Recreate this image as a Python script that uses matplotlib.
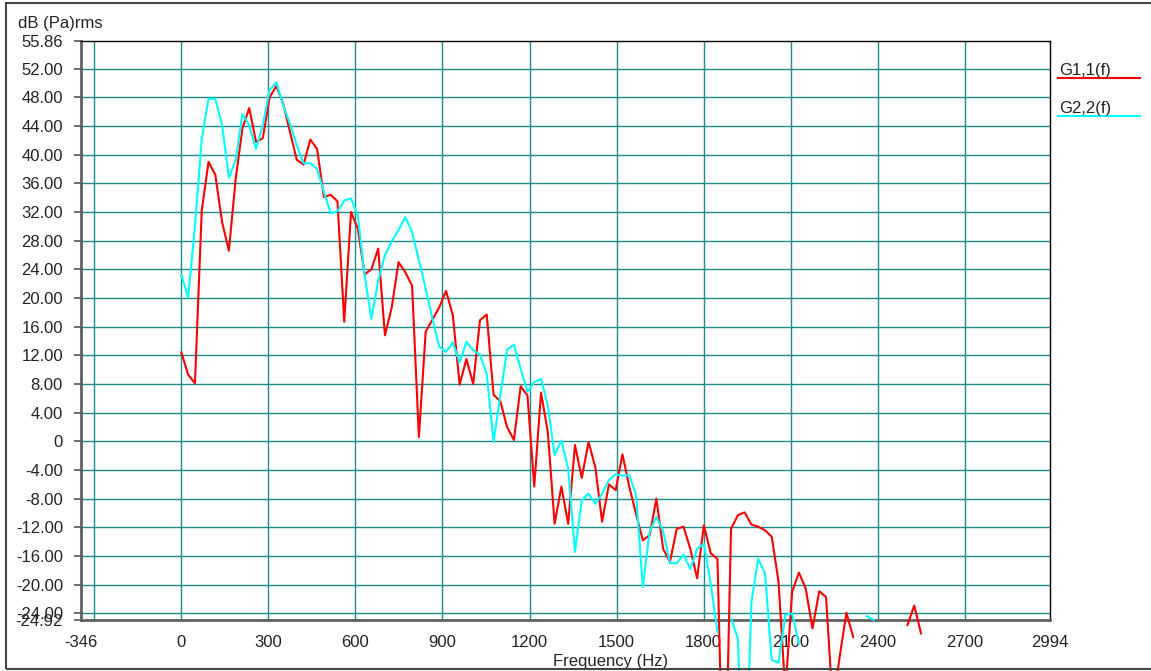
#!/usr/bin/env python3

import numpy as np
import matplotlib
matplotlib.use("Agg")
import matplotlib.pyplot as plt
from matplotlib.lines import Line2D
from matplotlib.patches import Rectangle

nan = np.nan

# spectral line spacing (Hz)
FREQ_STEP = 23.39

G11 = [
    12.4, 9.3, 8.1, 32.2, 39.0, 37.2, 30.6, 26.6, 36.6, 43.7,
    46.5, 41.8, 42.3, 48.0, 49.6, 47.1, 43.2, 39.3, 38.6, 42.1,
    40.8, 34.1, 34.4, 33.5, 16.7, 32.0, 29.7, 23.3, 24.0, 26.9,
    14.8, 18.7, 25.0, 23.6, 21.7, 0.6, 15.3, 17.0, 18.7, 21.0,
    17.6, 7.9, 11.5, 8.0, 16.9, 17.7, 6.5, 5.6, 2.0, 0.2,
    7.7, 6.4, -6.3, 6.8, 1.3, -11.5, -6.3, -11.5, -0.5, -5.1,
    -0.1, -3.6, -11.2, -6.0, -6.8, -1.8, -6.3, -10.1, -13.8, -13.1,
    -8.0, -15.0, -16.8, -12.2, -11.9, -15.0, -19.1, -11.7, -15.6, -16.4,
    -55.0, -12.2, -10.3, -9.9, -11.6, -11.9, -12.4, -13.3, -19.6, -35.0,
    -21.0, -18.3, -20.5, -26.1, -20.9, -21.7, -37.0, -30.1, -23.9, -27.3,
    nan, nan, nan, nan, nan, nan, nan, -25.6, -22.9, -26.8,
]

G22 = [
    23.2, 20.1, 30.0, 42.2, 47.8, 47.8, 44.1, 36.8, 39.2, 45.7,
    44.1, 40.8, 44.1, 49.0, 50.1, 46.9, 44.3, 41.3, 38.8, 38.8,
    38.0, 34.8, 31.8, 32.1, 33.6, 33.9, 31.5, 23.2, 17.1, 22.4,
    26.0, 27.9, 29.5, 31.3, 29.2, 25.3, 21.3, 17.1, 13.2, 12.5,
    13.8, 11.0, 13.9, 12.7, 12.1, 9.4, -0.1, 6.4, 12.8, 13.5,
    10.1, 6.9, 8.3, 8.7, 5.0, -1.9, 0.1, -3.8, -15.4, -8.2,
    -7.3, -8.7, -7.3, -5.4, -4.6, -4.8, -4.7, -7.5, -20.3, -12.6,
    -10.5, -12.6, -17.0, -17.0, -15.8, -17.8, -15.0, -14.3, -19.8, -26.6,
    nan, -24.7, -27.5, -52.0, -22.4, -16.4, -18.4, -30.5, -30.9, -24.2,
    -24.0, -28.2, nan, nan, nan, nan, nan, nan, nan, nan,
    nan, -24.4, -24.9, nan, nan, nan, nan, nan, nan, nan,
]

X_MIN, X_MAX = -346, 2994
Y_MIN, Y_MAX = -24.92, 55.86

X_TICKS = [-346, 0, 300, 600, 900, 1200, 1500, 1800, 2100, 2400, 2700, 2994]
X_GRID = [-300, 0, 300, 600, 900, 1200, 1500, 1800, 2100, 2400, 2700]
Y_GRID = list(range(-24, 53, 4))
Y_TICKS = [Y_MIN] + Y_GRID + [Y_MAX]

RED = "#ff0000"
CYAN = "#00ffff"
TEAL = "#1a8a8a"

W, H = 1151, 671

plt.rcParams["font.family"] = ["Liberation Sans", "DejaVu Sans"]
plt.rcParams["font.size"] = 12


def y_label(v):
    return "0" if v == 0 else f"{v:.2f}"


def main():
    freqs = np.arange(len(G11)) * FREQ_STEP

    fig = plt.figure(figsize=(W / 100, H / 100), dpi=100)
    ax = fig.add_axes([81 / W, 1 - 620 / H, (1050 - 81) / W, (620 - 41) / H])

    for x in X_GRID:
        ax.axvline(x, color=TEAL, lw=1.0, zorder=1)
    for y in Y_GRID:
        ax.axhline(y, color=TEAL, lw=1.0, zorder=1)

    ax.plot(freqs, G11, color=RED, lw=1.5, clip_on=False, zorder=3)
    ax.plot(freqs, G22, color=CYAN, lw=1.5, clip_on=False, zorder=4)

    ax.set_xlim(X_MIN, X_MAX)
    ax.set_ylim(Y_MIN, Y_MAX)

    ax.set_xticks(X_TICKS)
    ax.set_xticklabels([str(v) for v in X_TICKS])
    ax.set_yticks(Y_TICKS)
    ax.set_yticklabels([y_label(v) for v in Y_TICKS])
    ax.tick_params(axis="x", length=0, pad=11, colors="#222222")
    ax.tick_params(axis="y", length=5, width=1.2, pad=8, color="#555555",
                   labelcolor="#222222")

    for side in ("left", "bottom"):
        ax.spines[side].set_color("#606060")
        ax.spines[side].set_linewidth(2)
    for side in ("top", "right"):
        ax.spines[side].set_color("black")
        ax.spines[side].set_linewidth(1)

    fig.text(18 / W, 1 - 28 / H, "dB (Pa)rms", va="baseline", ha="left",
             color="#222222")
    fig.text(611 / W, 1 - 666 / H, "Frequency (Hz)", va="baseline",
             ha="center", color="#222222")

    # legend entries on the right
    for i, (name, col) in enumerate([("G1,1(f)", RED), ("G2,2(f)", CYAN)]):
        base = 75 + i * 38
        fig.text(1059 / W, 1 - base / H, name, va="baseline", ha="left",
                 color="#222222")
        fig.add_artist(Line2D([1058 / W, 1140 / W],
                              [1 - (base + 3) / H, 1 - (base + 3) / H],
                              transform=fig.transFigure, color=col, lw=1.5))

    fig.add_artist(Rectangle((6 / W, 2 / H), 1.0, (669 - 3) / H,
                             transform=fig.transFigure, fill=False,
                             edgecolor="#444444", lw=1.5, zorder=10))

    fig.savefig("out.png", dpi=100)
    print("Wrote out.png")


if __name__ == "__main__":
    main()
